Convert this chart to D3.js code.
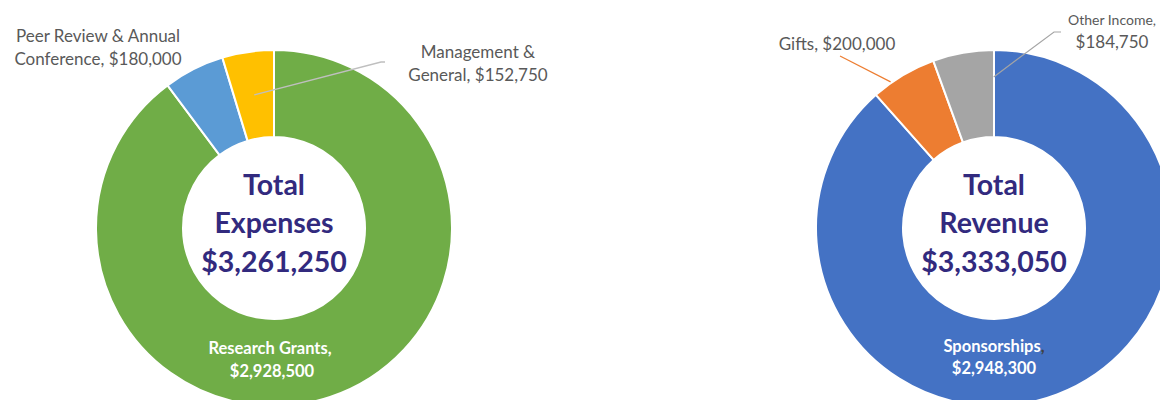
<!DOCTYPE html>
<html>
<head>
<meta charset="utf-8">
<script src="https://cdn.jsdelivr.net/npm/d3@7/dist/d3.min.js"></script>
<style>
  html, body { margin: 0; padding: 0; background: #ffffff; }
  svg { display: block; font-family: Lato, "Open Sans", sans-serif; }
</style>
</head>
<body>
<svg id="chart" width="1160" height="400"></svg>
<script>
// ---- data ----
const expenseCategories = ["Research Grants", "Peer Review & Annual Conference", "Management & General"];
const expenseValues = [2928500, 180000, 152750];
const expenseColors = ["#70AD47", "#5B9BD5", "#FFC000"];

const revenueCategories = ["Sponsorships", "Gifts", "Other Income"];
const revenueValues = [2948300, 200000, 184750];
const revenueColors = ["#4472C4", "#ED7D31", "#A5A5A5"];

// ---- layout ----
const W = 1160, H = 400;
const outerR = 178, innerR = 91;
const fmt = d3.format("$,");
const svg = d3.select("#chart");
svg.append("rect").attr("width", W).attr("height", H).attr("fill", "#fff");

const pie = d3.pie().sort(null).value(d => d.value);
const arc = d3.arc().innerRadius(innerR).outerRadius(outerR);

function polar(angle, r) {
  return [r * Math.sin(angle), -r * Math.cos(angle)];
}

function donut(cx, cy, cats, vals, colors, titleWord) {
  const data = cats.map((c, i) => ({ name: c, value: vals[i], color: colors[i] }));
  const arcs = pie(data);
  const g = svg.append("g").attr("transform", `translate(${cx},${cy})`);
  g.selectAll("path.slice").data(arcs).enter().append("path")
    .attr("class", "slice")
    .attr("d", arc)
    .attr("fill", d => d.data.color)
    .attr("stroke", "#ffffff")
    .attr("stroke-width", 2)
    .attr("stroke-linejoin", "round");

  const total = d3.sum(vals);
  const title = g.append("text")
    .attr("text-anchor", "middle")
    .attr("fill", "#322a7e")
    .attr("font-weight", 700)
    .attr("font-size", 28.5);
  title.append("tspan").attr("x", 0).attr("y", -33).text("Total");
  title.append("tspan").attr("x", 0).attr("y", 5).text(titleWord);
  title.append("tspan").attr("x", 0).attr("y", 44).text(fmt(total));
  return { g, arcs };
}

// ---- left: expenses ----
const L = donut(274, 228, expenseCategories, expenseValues, expenseColors, "Expenses");
{
  const g = L.g, arcs = L.arcs;
  // Research Grants label inside
  const t = g.append("text").attr("text-anchor", "middle").attr("fill", "#ffffff")
    .attr("font-weight", 700).attr("font-size", 16.5);
  t.append("tspan").attr("x", -4).attr("y", 126).text(arcs[0].data.name + ",");
  t.append("tspan").attr("x", -2).attr("y", 149).text(fmt(arcs[0].data.value));

  // Peer Review label (no leader)
  const p = g.append("text").attr("text-anchor", "middle").attr("fill", "#595959")
    .attr("font-size", 17);
  p.append("tspan").attr("x", -176).attr("y", -186).text("Peer Review & Annual");
  p.append("tspan").attr("x", -176).attr("y", -163).text("Conference, " + fmt(arcs[1].data.value));

  // Management label with leader from centroid
  const c = arc.centroid(arcs[2]);
  g.append("polyline")
    .attr("points", [c, [107, -166], [111, -166]].map(q => q.join(",")).join(" "))
    .attr("fill", "none").attr("stroke", "#BFBFBF").attr("stroke-width", 1.3);
  const m = g.append("text").attr("text-anchor", "middle").attr("fill", "#595959")
    .attr("font-size", 17);
  m.append("tspan").attr("x", 204).attr("y", -170).text("Management &");
  m.append("tspan").attr("x", 204).attr("y", -147).text("General, " + fmt(arcs[2].data.value));
}

// ---- right: revenue ----
const R = donut(994, 228, revenueCategories, revenueValues, revenueColors, "Revenue");
{
  const g = R.g, arcs = R.arcs;
  const t = g.append("text").attr("text-anchor", "middle").attr("fill", "#ffffff")
    .attr("font-weight", 700).attr("font-size", 16.5);
  const t1 = t.append("tspan").attr("x", 0).attr("y", 124);
  t1.append("tspan").text(arcs[0].data.name);
  t1.append("tspan").attr("fill", "#404040").text(",");
  t.append("tspan").attr("x", 0).attr("y", 146).text(fmt(arcs[0].data.value));

  // Gifts leader: from outer edge of slice up-left to label
  const a1 = arcs[1].startAngle + 0.29 * (arcs[1].endAngle - arcs[1].startAngle);
  const s1 = polar(a1, outerR + 1);
  g.append("line")
    .attr("x1", s1[0]).attr("y1", s1[1]).attr("x2", -154).attr("y2", -172)
    .attr("stroke", "#ED7D31").attr("stroke-width", 1.2);
  g.append("text").attr("text-anchor", "middle").attr("fill", "#595959")
    .attr("font-size", 17).attr("x", -157).attr("y", -178)
    .text(arcs[1].data.name + ", " + fmt(arcs[1].data.value));

  // Other Income leader: from slice end edge up-right
  const s2 = polar(arcs[2].endAngle - 0.002, 151);
  g.append("polyline")
    .attr("points", [s2, [60, -196], [67, -196]].map(q => q.join(",")).join(" "))
    .attr("fill", "none").attr("stroke", "#A5A5A5").attr("stroke-width", 1.2);
  const o = g.append("text").attr("text-anchor", "middle").attr("fill", "#595959");
  o.append("tspan").attr("x", 118).attr("y", -203).attr("font-size", 14).text(arcs[2].data.name + ",");
  o.append("tspan").attr("x", 118).attr("y", -180).attr("font-size", 17).text(fmt(arcs[2].data.value));
}
</script>
</body>
</html>
